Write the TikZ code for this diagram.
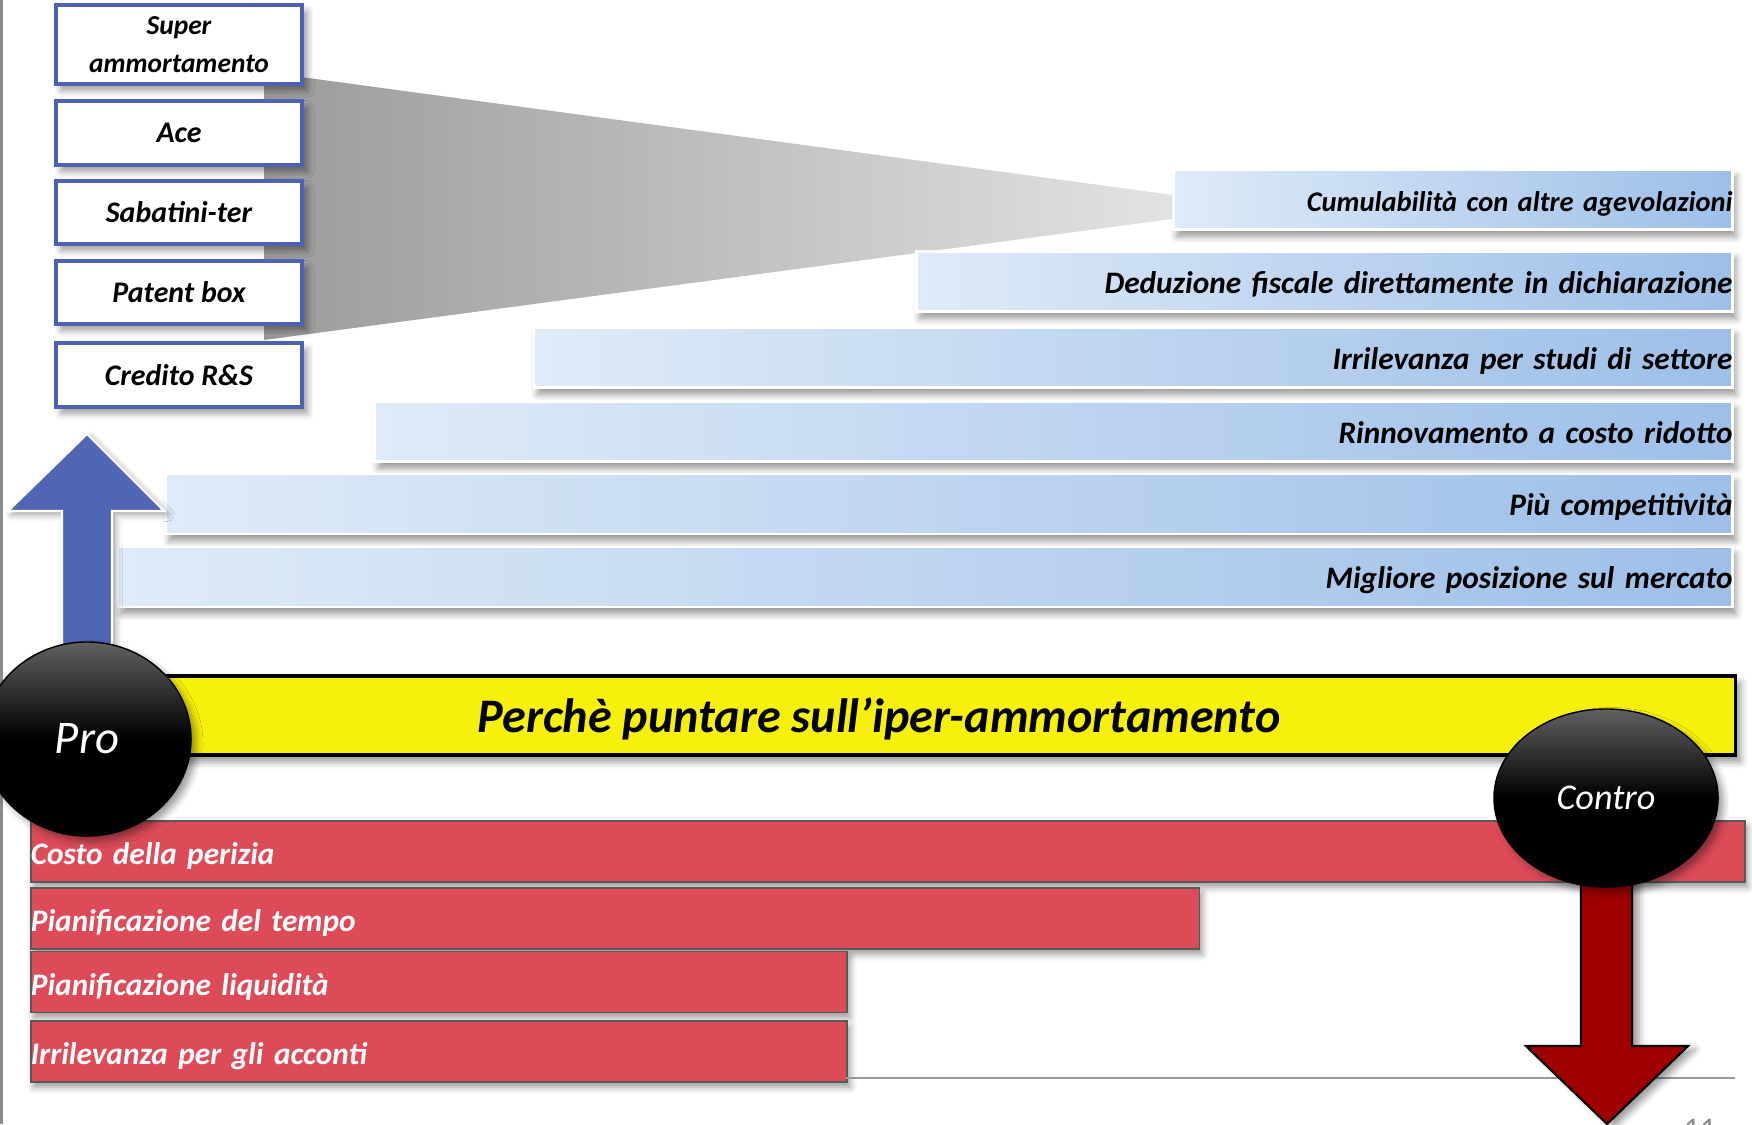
\documentclass[tikz,border=0pt]{standalone}
\usepackage{fontspec}
\setmainfont{Carlito}
\usetikzlibrary{shapes.geometric,shadows,shadows.blur}
\definecolor{boxblue}{RGB}{79,98,178}
\definecolor{arrowblue}{RGB}{80,102,180}
\definecolor{barlight}{RGB}{223,235,248}
\definecolor{bardark}{RGB}{157,191,232}
\definecolor{conred}{RGB}{221,75,88}
\definecolor{titleyellow}{RGB}{247,240,10}
\definecolor{arrowred}{RGB}{160,0,0}
\newcommand{\barfont}{\fontsize{8.5}{10.8}\selectfont\bfseries\itshape}
\newcommand{\bigbarfont}{\fontsize{8.9}{10.8}\selectfont\bfseries\itshape}
\tikzset{leftbox/.style = {draw=boxblue, line width=1pt, fill=white, minimum width=2.46cm, inner sep=0pt, align=center, font=\barfont, blur shadow={shadow xshift=1.5pt, shadow yshift=-1.8pt}}}
\tikzset{probar/.style = {draw=white, line width=0.8pt, left color=barlight, right color=bardark, minimum height=0.6cm, inner xsep=0pt, inner ysep=0pt, text height=8.6pt, text depth=1.8pt, align=right, anchor=east, font=\bigbarfont, blur shadow={shadow xshift=1pt, shadow yshift=-2pt}}}
\tikzset{conbar/.style = {draw=black!65, line width=0.5pt, fill=conred, minimum height=0.61cm, inner xsep=0pt, inner ysep=0pt, text height=9.2pt, text depth=1.8pt, align=left, anchor=west, text=white, font=\bigbarfont, blur shadow={shadow xshift=0.8pt, shadow yshift=-1.5pt}}}
\tikzset{ball/.style = {ellipse, draw=black, inner sep=0pt, top color=black!62, bottom color=black, middle color=black, text=white, blur shadow={shadow xshift=1.5pt, shadow yshift=-1.5pt}}}

\begin{document}
\begin{tikzpicture}[x=0.01cm, y=-0.01cm]
		\useasboundingbox (0,0) rectangle (1752,1124);
		\draw[black!45, line width=0.7pt] (1.5,0) -- (1.5,1124);

		% funnel
		\shade[left color={rgb,255:red,155;green,155;blue,155}, right color={rgb,255:red,234;green,234;blue,234}] (264,72) -- (1262,207) -- (264,340) -- cycle;

		% other incentives
		\node[leftbox, minimum height=0.79cm, font=\fontsize{7.8}{10.8}\selectfont\bfseries\itshape] (superamm) at (179,44.5) {Super\\ammortamento};
		\node[leftbox, minimum height=0.64cm] (ace) at (179,133) {Ace};
		\node[leftbox, minimum height=0.63cm] (sabatini) at (179,212.5) {Sabatini-ter};
		\node[leftbox, minimum height=0.63cm] (patent) at (179,292.5) {Patent box};
		\node[leftbox, minimum height=0.64cm] (credito) at (179,375) {Credito R\&S};

		% pro bars
		\node[probar, minimum width=5.59cm, text width=5.59cm, font=\fontsize{8.1}{10.8}\selectfont\bfseries\itshape] (cumul) at (1734,199.5) {Cumulabilità con altre agevolazioni};
		\node[probar, minimum width=8.16cm, text width=8.16cm] (deduz) at (1734,281.5) {Deduzione fiscale direttamente in dichiarazione};
		\node[probar, minimum width=11.98cm, text width=11.98cm] (studi) at (1734,357.5) {Irrilevanza per studi di settore};
		\node[probar, minimum width=13.57cm, text width=13.57cm] (rinnov) at (1734,431.5) {Rinnovamento a costo ridotto};
		\node[probar, minimum width=15.66cm, text width=15.66cm] (compet) at (1734,504) {Più competitività};
		\node[probar, minimum width=16.14cm, text width=16.14cm] (mercato) at (1734,577) {Migliore posizione sul mercato};

		% up arrow
		\filldraw[fill=arrowblue, draw=white, line width=0.6pt, blur shadow={shadow xshift=1pt, shadow yshift=-1pt}] (62,660) -- (62,511) -- (8,511) -- (87,434) -- (164,511) -- (112,511) -- (112,660) -- cycle;

		% title
		\node[draw=black, line width=0.9pt, fill=titleyellow, minimum width=15.67cm, minimum height=0.79cm, blur shadow={shadow xshift=1.5pt, shadow yshift=-2pt}] (banner) at (951.5,715.5) {};
		\node[font=\fontsize{13.7}{16}\selectfont\bfseries\itshape] (titletext) at (879,719) {Perchè puntare sull’iper-ammortamento};

		% contro bars
		\node[conbar, minimum width=17.13cm, text width=17.13cm] (perizia) at (30,851.5) {Costo della perizia};
		\node[conbar, minimum width=11.68cm, text width=11.68cm] (tempo) at (30,918.5) {Pianificazione del tempo};
		\node[conbar, minimum width=8.16cm, text width=8.16cm] (liquid) at (30,982) {Pianificazione liquidità};
		\node[conbar, minimum width=8.16cm, text width=8.16cm] (acconti) at (30,1051.5) {Irrilevanza per gli acconti};
		\draw[black!40, line width=0.5pt] (846,1078) -- (1735,1078);

		% down arrow
		\filldraw[fill=arrowred, draw=black, line width=0.6pt, blur shadow={shadow xshift=2pt, shadow yshift=-1pt}] (1581,850) -- (1581,1046) -- (1526,1046) -- (1607,1124) -- (1688,1046) -- (1632,1046) -- (1632,850) -- cycle;

		% pro / contro
		\node[ball, minimum width=2.08cm, minimum height=1.94cm, font=\fontsize{13.3}{16}\selectfont\itshape] (pro) at (87,739) {Pro};
		\node[ball, minimum width=2.24cm, minimum height=1.78cm, font=\fontsize{10.3}{12}\selectfont\itshape] (contro) at (1606,798) {Contro};

		\node[text=black!45, font=\fontsize{9}{10}\selectfont, anchor=north] (pagenum) at (1700,1107) {11};
	\end{tikzpicture}
\end{document}
